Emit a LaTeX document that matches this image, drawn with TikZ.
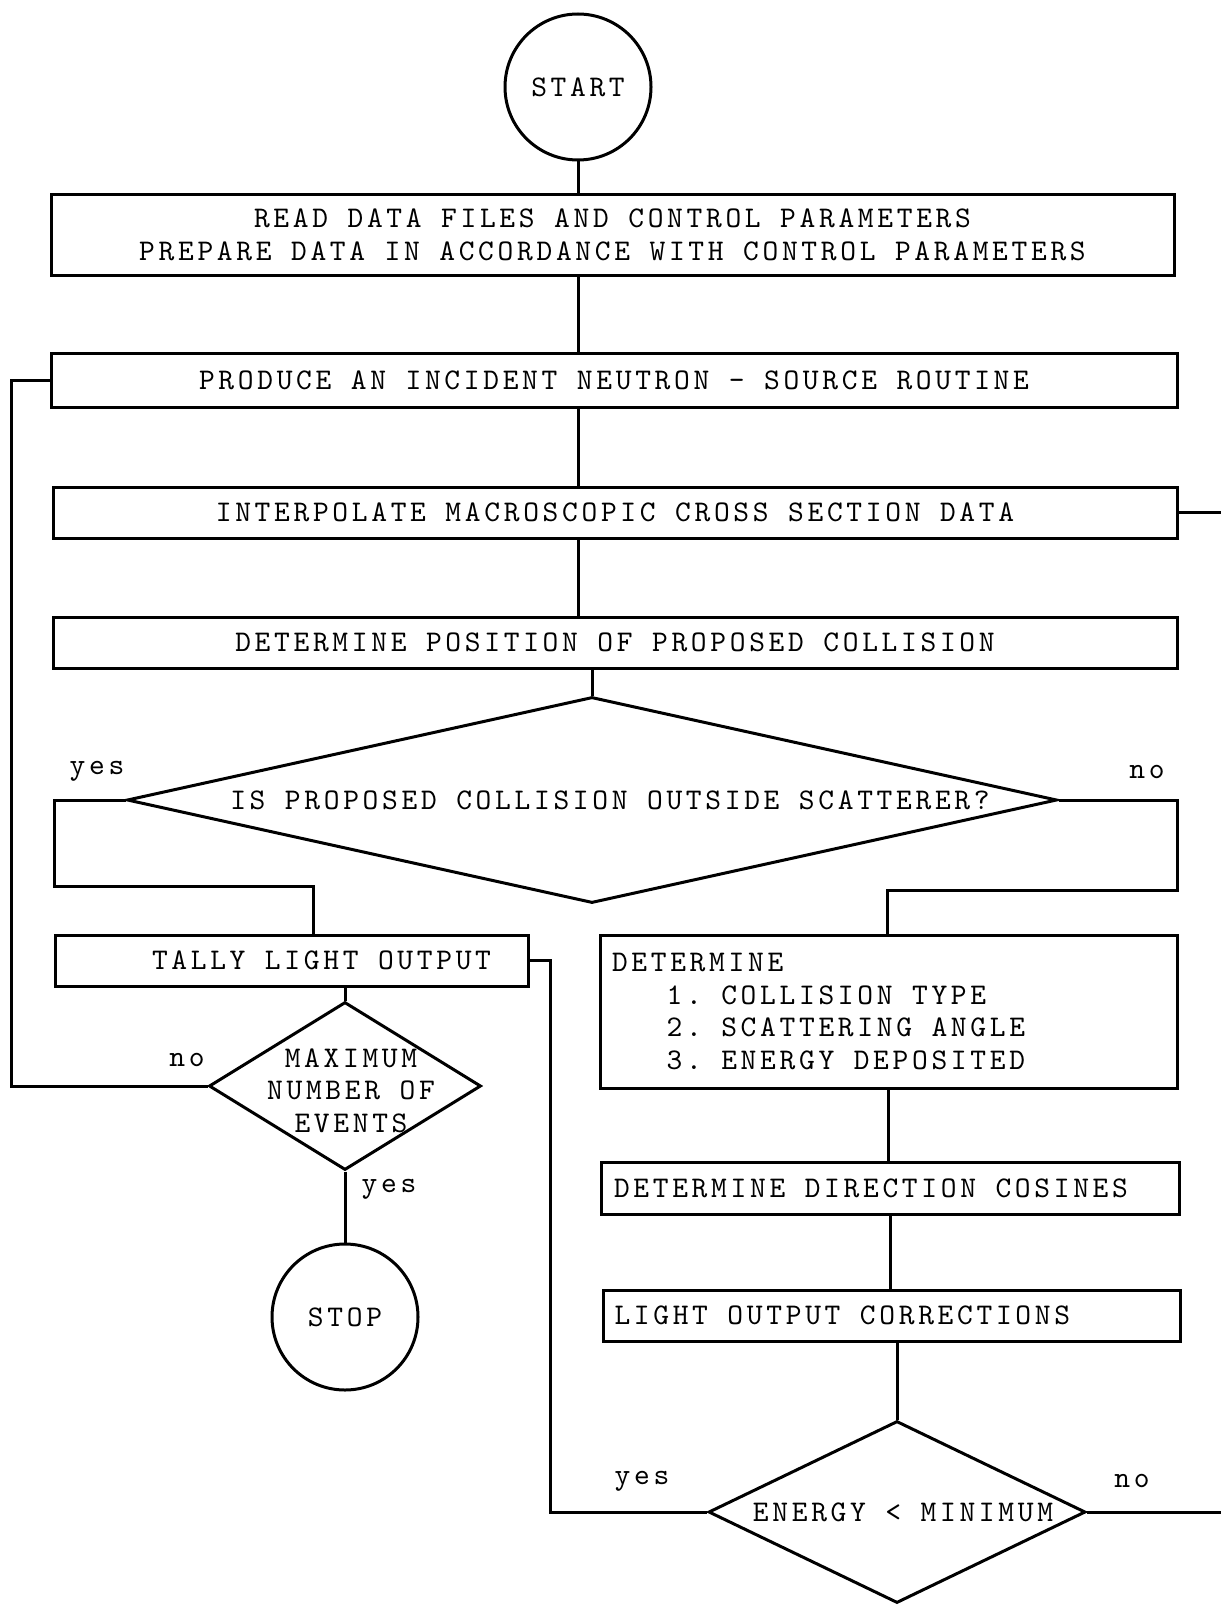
\documentclass[tikz,border=0pt]{standalone}
\usepackage{fontspec}
\setmonofont{lmmono10-regular.otf}[LetterSpace=12.3]
\usetikzlibrary{shapes.geometric}
\newcommand\fixsp{\frenchspacing\spaceskip=9.75pt\relax\xspaceskip=9.75pt\relax}
\begin{document}
\begin{tikzpicture}[x=0.5pt,y=-0.5pt, line width=1.5pt,
  every node/.style={font=\ttfamily\fontsize{15}{16.2}\selectfont\fixsp},
  box/.style={draw, rectangle, inner sep=0pt},
  circ/.style={draw, circle, minimum size=73pt, inner sep=0pt},
  dia/.style={draw, diamond, inner sep=0pt, aspect=1},
  lbl/.style={draw=none, fill=none, inner sep=0pt}]
\useasboundingbox (0,0) rectangle (1221,1605);

% main column
\node[circ] (start) at (578,87) {START};
\node[box, minimum width=561.5pt, minimum height=40pt, align=center] (read) at (612.5,235)
  {\fixsp READ DATA FILES AND CONTROL PARAMETERS\\PREPARE DATA IN ACCORDANCE WITH CONTROL PARAMETERS};
\node[box, minimum width=563pt, minimum height=27pt] (produce) at (614,380)
  {PRODUCE AN INCIDENT NEUTRON - SOURCE ROUTINE};
\node[box, minimum width=562pt, minimum height=25.5pt] (interp) at (615,512.5)
  {INTERPOLATE MACROSCOPIC CROSS SECTION DATA};
\node[box, minimum width=562pt, minimum height=25.5pt] (detpos) at (615,642.5)
  {DETERMINE POSITION OF PROPOSED COLLISION};
\node[dia, minimum width=465pt, minimum height=103pt,
  label={[lbl,xshift=9pt]center:IS PROPOSED COLLISION OUTSIDE SCATTERER?}] (d1) at (592,800) {};

% left branch
\node[box, minimum width=236.5pt, minimum height=25.5pt,
  label={[lbl,xshift=15pt]center:TALLY LIGHT OUTPUT}] (tally) at (291.5,960.5) {};
\node[dia, minimum width=136pt, minimum height=84pt,
  label={[lbl,align=center,xshift=3pt,yshift=-2.3pt]center:\fixsp MAXIMUM\\NUMBER OF\\EVENTS}] (maxev) at (345,1086) {};
\node[circ] (stop) at (345,1317) {STOP};

% right branch
\node[box, minimum width=288.5pt, minimum height=76.5pt, text width=276.5pt, inner xsep=6pt, align=left] (det) at (888.5,1011.5)
  {\fixsp DETERMINE\\\hphantom{XXX}1. COLLISION TYPE\\\hphantom{XXX}2. SCATTERING ANGLE\\\hphantom{XXX}3. ENERGY DEPOSITED};
\node[box, minimum width=289pt, minimum height=26pt, text width=276pt, inner xsep=6.5pt, align=left] (dircos) at (890,1188)
  {\fixsp DETERMINE DIRECTION COSINES};
\node[box, minimum width=288.5pt, minimum height=25.5pt, text width=277pt, inner xsep=5.75pt, align=left] (lightc) at (891.5,1315.5)
  {\fixsp LIGHT OUTPUT CORRECTIONS};
\node[dia, minimum width=188.5pt, minimum height=91pt,
  label={[lbl,xshift=3pt]center:ENERGY < MINIMUM}] (energy) at (897,1512) {};

% branch labels
\node (yes1) at (97,771) {yes};
\node (no1) at (1147,772) {no};
\node (no2) at (187,1060) {no};
\node (yes2) at (389,1189) {yes};
\node (yes3) at (642,1481) {yes};
\node (no3) at (1132,1481) {no};

% helper coordinates
\coordinate (yl) at (54,886);
\coordinate (yr) at (313,886);
\coordinate (nr) at (1177,890);
\coordinate (nl) at (887,890);
\coordinate (tj) at (550,1512);
\coordinate (ie) at (1221,512.5);
\coordinate (ee) at (1221,1512);
\coordinate (ml) at (11,1086);

% connectors
\draw (start.south) -- (start.south |- read.north);
\draw (start.south |- read.south) -- (start.south |- produce.north);
\draw (start.south |- produce.south) -- (start.south |- interp.north);
\draw (start.south |- interp.south) -- (start.south |- detpos.north);
\draw (d1.north |- detpos.south) -- (d1.north);
\draw (d1.west) -| (yl) -- (yr) -- (yr |- tally.north);
\draw (d1.east) -| (nr) -- (nl) -- (nl |- det.north);
\draw (interp.east) -- (interp.east -| ie);
\draw (maxev.north |- tally.south) -- (maxev.north);
\draw (maxev.west) -- (maxev.west -| ml) |- (produce.west);
\draw (maxev.south) -- (stop.north);
\draw (tally.east) -| (tj) -- (energy.west);
\draw (det.south) -- (det.south |- dircos.north);
\draw (dircos.south) -- (dircos.south |- lightc.north);
\draw (energy.north |- lightc.south) -- (energy.north);
\draw (energy.east) -- (energy.east -| ee);
\end{tikzpicture}
\end{document}
